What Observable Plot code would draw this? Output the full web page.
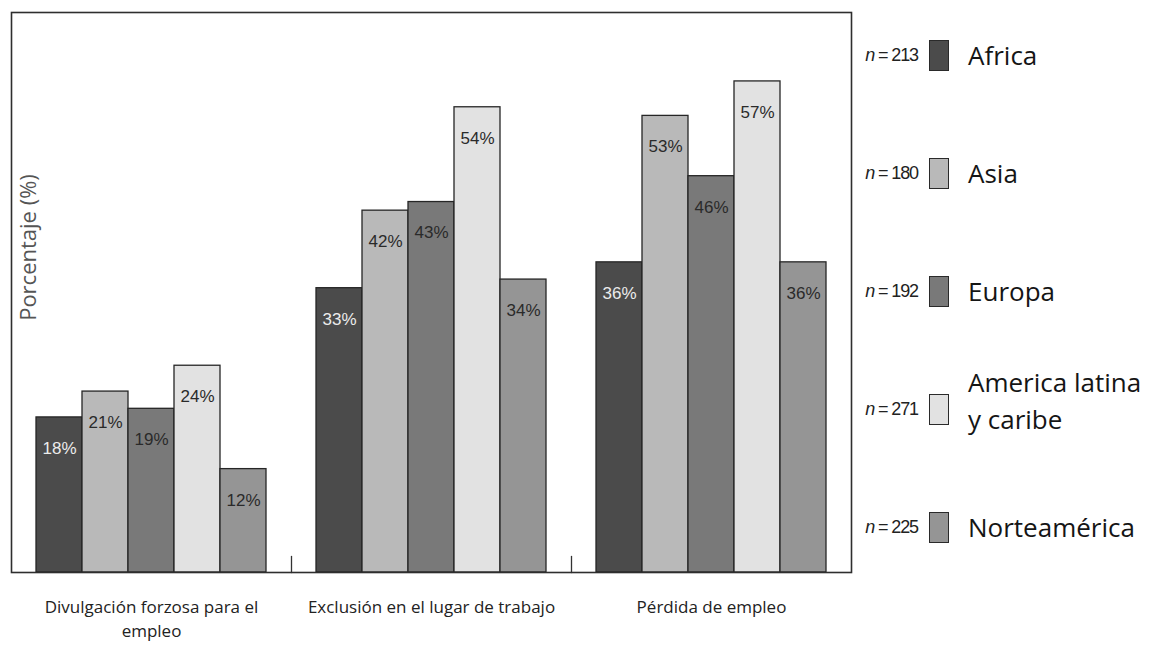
<!DOCTYPE html>
<html lang="es">
<head>
<meta charset="utf-8">
<script src="https://cdn.jsdelivr.net/npm/d3@7"></script>
<script src="https://cdn.jsdelivr.net/npm/@observablehq/plot@0.6"></script>
<style>
  html, body { margin: 0; padding: 0; background: #fff; }
  #wrap { position: relative; width: 1149px; height: 646px; overflow: hidden; font-family: "Open Sans", sans-serif; }
  #chart { position: absolute; left: 0; top: 0; }
  #legend { position: absolute; left: 846px; top: -4px; width: 303px; }
  .item { height: 118px; display: flex; align-items: center; }
  .n { width: 72px; text-align: right; font-family: "Liberation Sans", Arial, sans-serif; font-size: 18px; letter-spacing: -1.1px; color: #222; }
  .n i { font-style: italic; }
  .sw { width: 20px; height: 31px; margin-left: 11px; border: 1.5px solid #2a2a2a; box-sizing: border-box; flex: none; }
  .lab { margin-left: 19px; font-size: 26px; line-height: 37px; color: #151515; }
</style>
</head>
<body>
<div id="wrap">
  <div id="chart"></div>
  <div id="legend"></div>
</div>
<script>
// Categories (groups) and regions (bars within each group)
const categories = ["Divulgación forzosa para el empleo", "Exclusión en el lugar de trabajo", "Pérdida de empleo"];
const categoryLabels = ["Divulgación forzosa para el\nempleo", "Exclusión en el lugar de trabajo", "Pérdida de empleo"];
const regions = ["Africa", "Asia", "Europa", "America latina y caribe", "Norteamérica"];
const regionLabels = ["Africa", "Asia", "Europa", "America latina\ny caribe", "Norteamérica"];
const sampleSizes = [213, 180, 192, 271, 225];

// Percentages per region, one array per category
const divulgacion = [18, 21, 19, 24, 12];
const exclusion = [33, 42, 43, 54, 34];
const perdida = [36, 53, 46, 57, 36];

const regionColors = ["#4b4b4b", "#b9b9b9", "#797979", "#e2e2e2", "#959595"];

const series = [divulgacion, exclusion, perdida];
const rows = categories.flatMap((c, ci) =>
  regions.map((r, ri) => ({category: c, region: r, value: series[ci][ri]}))
);

const labelOf = new Map(categories.map((c, i) => [c, categoryLabels[i]]));

// Short vertical stroke used for the group separators on the baseline
const stem = {draw(context, l) { context.moveTo(0, 0); context.lineTo(0, -l); }};

const chart = Plot.plot({
  width: 870,
  height: 646,
  marginLeft: 10,
  marginRight: 18,
  marginTop: 12,
  marginBottom: 74,
  style: {fontFamily: "Open Sans, sans-serif", fontSize: "17px", color: "#222", background: "transparent"},
  fx: {domain: categories, padding: 0, label: null},
  x: {domain: regions, paddingInner: 0, paddingOuter: 0.49, axis: null},
  y: {domain: [0, 65], axis: null},
  color: {domain: regions, range: regionColors},
  marks: [
    Plot.barY(rows, {fx: "category", x: "region", y: "value", fill: "region", stroke: "#262626", strokeWidth: 1.3}),
    Plot.text(rows, {
      fx: "category", x: "region", y: "value",
      text: d => `${d.value}%`,
      dy: 31,
      fill: d => d.region === "Africa" ? "#ececec" : "#2a2a2a",
      fontFamily: "Liberation Sans, Arial, sans-serif",
      fontSize: 17
    }),
    Plot.vector(categories.slice(1), {
      fx: d => d, frameAnchor: "bottom-left", anchor: "start",
      length: 16, shape: stem, stroke: "#333", strokeWidth: 1.3
    }),
    Plot.text(["Porcentaje (%)"], {
      fx: () => categories[0], frameAnchor: "left", textAnchor: "middle", rotate: -90,
      dx: 17, dy: -45, fill: "#555", fontSize: 22
    }),
    Plot.axisFx({
      anchor: "bottom", tickSize: 0, tickPadding: 23,
      tickFormat: c => labelOf.get(c), lineHeight: 1.42, fill: "#222", fontSize: 17
    }),
    Plot.frame({facet: "super", stroke: "#2e2e2e", strokeWidth: 1.6})
  ]
});
document.getElementById("chart").append(chart);

// Legend: sample size, colour swatch, region name
const legend = d3.select("#legend");
regions.forEach((r, i) => {
  const item = legend.append("div").attr("class", "item");
  item.append("div").attr("class", "n").html(`<i>n</i> = ${sampleSizes[i]}`);
  item.append("div").attr("class", "sw").style("background", regionColors[i]);
  item.append("div").attr("class", "lab")
    .style("margin-top", i === 3 ? "-16px" : "0")
    .style("white-space", "pre")
    .text(regionLabels[i]);
});
</script>
</body>
</html>
